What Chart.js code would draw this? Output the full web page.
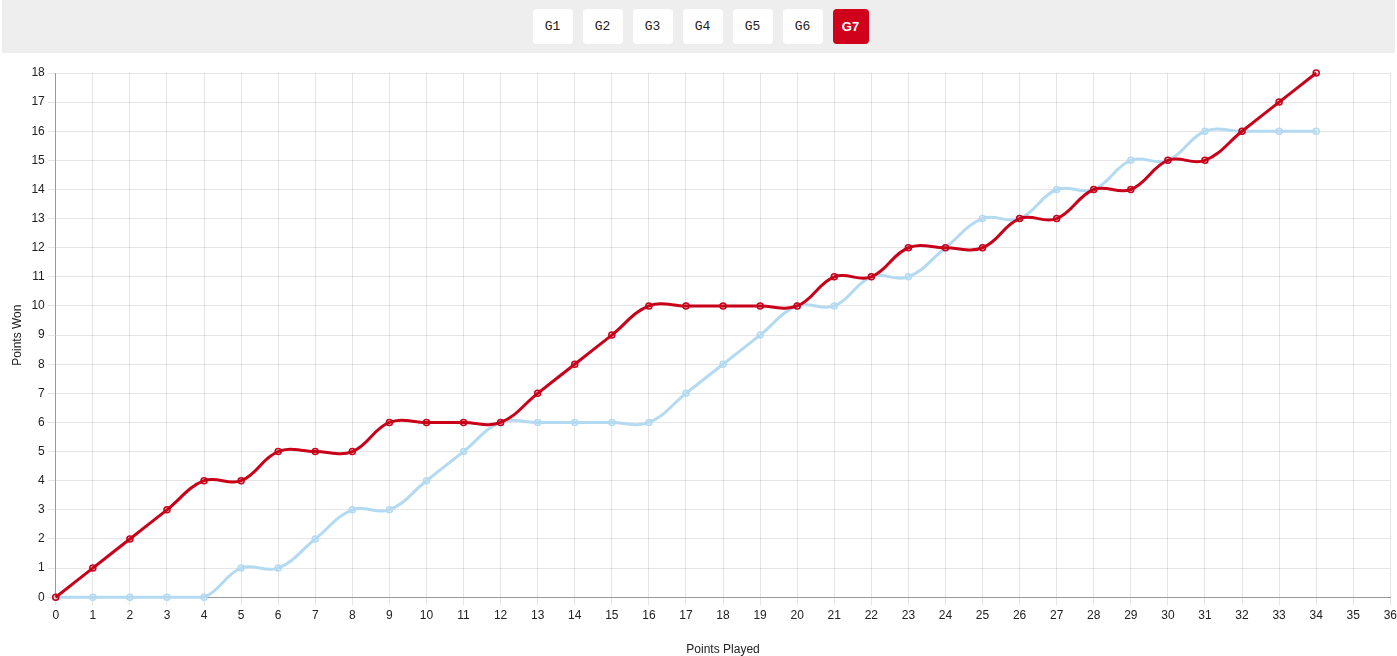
<!DOCTYPE html>
<html>
<head>
<meta charset="utf-8">
<script src="https://cdn.jsdelivr.net/npm/chart.js@4"></script>
<style>
  html, body { margin: 0; padding: 0; background: #fff; font-family: "Liberation Sans", Arial, sans-serif; overflow: hidden; }
  .tabs { margin: 0 2px; height: 53px; width: 1393px; background: #eeeeee; display: flex; justify-content: center; align-items: center; gap: 10px; padding-left: 4px; box-sizing: border-box; }
  .tabs button { width: 40px; height: 35px; border: none; border-radius: 4px; background: #fff; color: #222; font-family: "Liberation Mono", "DejaVu Sans Mono", monospace; font-size: 13px; padding: 0; }
  .tabs button.active { width: 36px; background: #d0021b; color: #fff; font-family: "Liberation Sans", sans-serif; font-weight: bold; }
  .wrap { position: relative; width: 1400px; height: 608px; }
</style>
</head>
<body>
<div class="tabs" id="gameTabs">
  <button>G1</button><button>G2</button><button>G3</button><button>G4</button>
  <button>G5</button><button>G6</button><button class="active">G7</button>
</div>
<div class="wrap"><canvas id="momentumChart"></canvas></div>
<script>
// points played (x) and running points won for each side
const pointsPlayed = [0,1,2,3,4,5,6,7,8,9,10,11,12,13,14,15,16,17,18,19,20,21,22,23,24,25,26,27,28,29,30,31,32,33,34];
const redWon  = [0,1,2,3,4,4,5,5,5,6,6,6,6,7,8,9,10,10,10,10,10,11,11,12,12,12,13,13,14,14,15,15,16,17,18];
const blueWon = [0,0,0,0,0,1,1,2,3,3,4,5,6,6,6,6,6,7,8,9,10,10,11,11,12,13,13,14,14,15,15,16,16,16,16];
const xMax = 36;
const yMax = 18;

const toPoints = arr => arr.map((v, i) => ({ x: pointsPlayed[i], y: v }));

const ctx = document.getElementById('momentumChart').getContext('2d');
new Chart(ctx, {
    type: 'line',
    data: {
        datasets: [{
            label: 'Red',
            data: toPoints(redWon),
            borderColor: '#c8001a',
            backgroundColor: 'rgba(200, 0, 26, 0.12)',
            borderWidth: 3,
            tension: 0.4,
            pointRadius: 3,
            pointBorderWidth: 1.5,
            clip: false,
            order: 1
        }, {
            label: 'Blue',
            data: toPoints(blueWon),
            borderColor: '#b3daf1',
            backgroundColor: 'rgba(179, 218, 241, 0.2)',
            borderWidth: 3,
            tension: 0.4,
            pointRadius: 3,
            pointBorderWidth: 1.5,
            clip: false,
            order: 2
        }]
    },
    options: {
        responsive: true,
        maintainAspectRatio: false,
        animation: false,
        layout: { padding: { top: 20, right: 0, left: 6, bottom: 0 } },
        plugins: {
            legend: { display: false },
            tooltip: { enabled: false }
        },
        scales: {
            x: {
                type: 'linear',
                min: 0,
                max: xMax,
                ticks: { stepSize: 1, color: '#222', font: { family: 'Liberation Sans', size: 12 } },
                grid: { color: 'rgba(0, 0, 0, 0.1)' },
                border: { color: '#999' },
                title: { display: true, text: 'Points Played', color: '#222', font: { family: 'Liberation Sans', size: 12 }, padding: { top: 17 } }
            },
            y: {
                min: 0,
                max: yMax,
                ticks: { stepSize: 1, color: '#222', font: { family: 'Liberation Sans', size: 12 } },
                grid: { color: 'rgba(0, 0, 0, 0.1)' },
                border: { color: '#999' },
                title: { display: true, text: 'Points Won', color: '#222', font: { family: 'Liberation Sans', size: 12 } }
            }
        }
    }
});
</script>
</body>
</html>
